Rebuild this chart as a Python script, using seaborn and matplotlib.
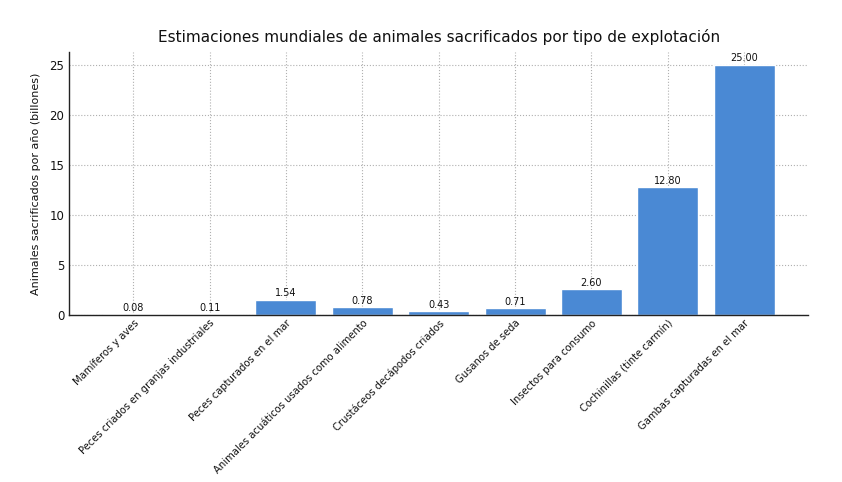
import matplotlib
matplotlib.use("Agg")
import matplotlib.pyplot as plt
import seaborn as sns
import pandas as pd

categorias = [
    "Mamíferos y aves",
    "Peces criados en granjas industriales",
    "Peces capturados en el mar",
    "Animales acuáticos usados como alimento",
    "Crustáceos decápodos criados",
    "Gusanos de seda",
    "Insectos para consumo",
    "Cochinillas (tinte carmín)",
    "Gambas capturadas en el mar",
]
valores = [0.08, 0.11, 1.54, 0.78, 0.43, 0.71, 2.60, 12.80, 25.00]

df = pd.DataFrame({"categoria": categorias, "valor": valores})

sns.set_style("white")
plt.rcParams["font.family"] = ["DejaVu Sans"]

fig = plt.figure(figsize=(8.42, 4.82), dpi=100)
ax = fig.add_axes([0.082, 0.346, 0.878, 0.546])

sns.barplot(data=df, x="categoria", y="valor", color="#4a89d4", saturation=1,
            width=0.8, ax=ax)
ax.set_xlim(-0.84, len(categorias) - 1 + 0.84)
ax.set_ylim(0, 26.25)

for cont in ax.containers:
    ax.bar_label(cont, fmt="%.2f", fontsize=7, padding=1, color="#111111")

ax.set_title("Estimaciones mundiales de animales sacrificados por tipo de explotación",
             fontsize=11, pad=7, color="#111111")
ax.set_xlabel("")
ax.set_ylabel("Animales sacrificados por año (billones)", fontsize=8, labelpad=6,
              color="#111111")
ax.set_yticks([0, 5, 10, 15, 20, 25])
ax.tick_params(axis="both", direction="in", labelsize=8.5, length=3,
               labelcolor="#111111")
ax.tick_params(axis="x", pad=2)
plt.setp(ax.get_xticklabels(), rotation=45, ha="right", rotation_mode="anchor",
         fontsize=7.2)

ax.grid(True, linestyle=":", color="#b0b0b0", linewidth=0.8)
ax.set_axisbelow(True)
for s in ["top", "right"]:
    ax.spines[s].set_visible(False)
for s in ["left", "bottom"]:
    ax.spines[s].set_color("#222222")
    ax.spines[s].set_linewidth(1.0)

fig.savefig("out.png", dpi=100)
